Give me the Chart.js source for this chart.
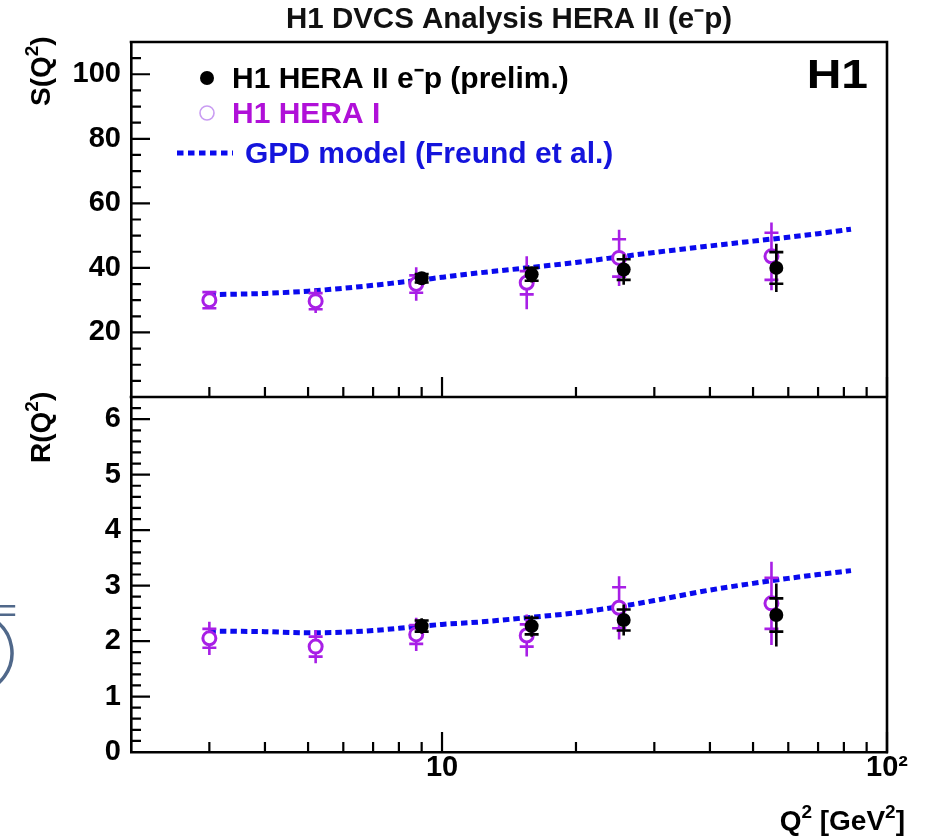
<!DOCTYPE html>
<html>
<head>
<meta charset="utf-8">
<script src="https://cdn.jsdelivr.net/npm/chart.js@4/dist/chart.umd.min.js"></script>
<style>
  html, body { margin: 0; padding: 0; background: #ffffff; }
  #wrap { position: relative; width: 925px; height: 840px; }
</style>
</head>
<body>
<div id="wrap"><canvas id="c" width="925" height="840"></canvas></div>
<script>
const FONT = "'Liberation Sans', Arial, Helvetica, sans-serif";

// Q^2 bin centres (GeV^2)
const q2HeraI  = [3.0, 5.2, 8.75, 15.5, 25.0, 55.0];
const q2HeraII = [9.0, 15.9, 25.6, 56.4];

// S(Q^2): value, statistical and total uncertainty
const sHeraI      = [30.0, 29.7, 35.0, 35.4, 43.1, 43.6];
const sHeraIStat  = [2.5, 2.5, 2.7, 3.6, 5.8, 7.3];
const sHeraITot   = [2.5, 3.7, 5.2, 8.2, 8.7, 10.5];
const sHeraII     = [36.8, 38.0, 39.5, 40.0];
const sHeraIIStat = [1.3, 2.0, 3.2, 4.9];
const sHeraIITot  = [1.8, 2.5, 4.7, 7.5];

// R(Q^2): value, statistical and total uncertainty
const rHeraI      = [2.05, 1.90, 2.12, 2.10, 2.60, 2.68];
const rHeraIStat  = [0.17, 0.18, 0.17, 0.20, 0.37, 0.46];
const rHeraITot   = [0.30, 0.30, 0.30, 0.38, 0.57, 0.75];
const rHeraII     = [2.27, 2.27, 2.38, 2.47];
const rHeraIIStat = [0.10, 0.15, 0.19, 0.30];
const rHeraIITot  = [0.14, 0.19, 0.28, 0.57];

// GPD model (Freund et al.)
const modelQ2 = [3, 4, 5, 6, 7, 8, 9, 10, 12, 15, 20, 25, 30, 40, 50, 60, 70, 83];
const modelS  = [31.7, 32.1, 32.8, 33.7, 34.6, 35.5, 36.3, 37.1, 38.4, 39.8, 41.7, 43.4, 44.8, 46.8, 48.3, 49.5, 50.6, 52.0];
const modelR  = [2.18, 2.17, 2.15, 2.16, 2.19, 2.23, 2.27, 2.30, 2.34, 2.41, 2.51, 2.62, 2.73, 2.92, 3.04, 3.13, 3.20, 3.27];

// axis ticks
const xTicks = [3, 4, 5, 6, 7, 8, 9, 10, 20, 30, 40, 50, 60, 70, 80, 90, 100];
const xTickLabels = { 10: '10', 100: '10\u00B2' };
const sTicks = [0, 5, 10, 15, 20, 25, 30, 35, 40, 45, 50, 55, 60, 65, 70, 75, 80, 85, 90, 95, 100, 105, 110];
const sTickLabels = [20, 40, 60, 80, 100];
const rTicks = [0, 0.2, 0.4, 0.6, 0.8, 1, 1.2, 1.4, 1.6, 1.8, 2, 2.2, 2.4, 2.6, 2.8, 3, 3.2, 3.4, 3.6, 3.8,
                4, 4.2, 4.4, 4.6, 4.8, 5, 5.2, 5.4, 5.6, 5.8, 6, 6.2, 6.4];
const rTickLabels = [0, 1, 2, 3, 4, 5, 6];

const PURPLE = '#a81fe6';
const PURPLE_TEXT = '#b010d8';
const BLUE = '#0a0aee';
const BLACK = '#000000';

const pts = (xs, ys) => xs.map((x, i) => ({ x: x, y: ys[i] }));

function modelSet(label, ys, axis) {
  return {
    type: 'line', label: label, data: pts(modelQ2, ys), yAxisID: axis,
    borderColor: BLUE, borderWidth: 5, borderDash: [6.5, 4], borderCapStyle: 'butt',
    pointRadius: 0, fill: false, cubicInterpolationMode: 'monotone', order: 3
  };
}
function heraISet(ys, stat, tot, axis) {
  return {
    label: 'H1 HERA I', data: pts(q2HeraI, ys), yAxisID: axis,
    pointStyle: 'circle', pointRadius: 6.5, pointBorderWidth: 3,
    pointBorderColor: PURPLE, pointBackgroundColor: '#ffffff',
    borderColor: PURPLE, backgroundColor: '#ffffff',
    errStat: stat, errTot: tot, errColor: PURPLE, order: 2
  };
}
function heraIISet(ys, stat, tot, axis) {
  return {
    label: 'H1 HERA II e\u207Bp (prelim.)', data: pts(q2HeraII, ys), yAxisID: axis,
    pointStyle: 'circle', pointRadius: 7, pointBorderWidth: 0,
    pointBackgroundColor: BLACK, borderColor: BLACK, backgroundColor: BLACK,
    errStat: stat, errTot: tot, errColor: BLACK, order: 1
  };
}

// vertical error bars: full line to the total error, short bars at the statistical error
const errorBars = {
  id: 'errorBars',
  beforeDatasetDraw(chart, args) {
    const ds = chart.data.datasets[args.index];
    if (!ds.errTot) return;
    const xs = chart.scales[args.meta.xAxisID];
    const ys = chart.scales[args.meta.yAxisID];
    const ctx = chart.ctx;
    ctx.save();
    ctx.strokeStyle = ds.errColor;
    ctx.lineWidth = 2.6;
    ds.data.forEach((p, i) => {
      const px = xs.getPixelForValue(p.x);
      const yTop = ys.getPixelForValue(p.y + ds.errTot[i]);
      const yBot = ys.getPixelForValue(p.y - ds.errTot[i]);
      const sTop = ys.getPixelForValue(p.y + ds.errStat[i]);
      const sBot = ys.getPixelForValue(p.y - ds.errStat[i]);
      ctx.beginPath();
      ctx.moveTo(px, yTop); ctx.lineTo(px, yBot);
      ctx.moveTo(px - 7, sTop); ctx.lineTo(px + 7, sTop);
      ctx.moveTo(px - 7, sBot); ctx.lineTo(px + 7, sBot);
      ctx.stroke();
    });
    ctx.restore();
  }
};

// closed frame, panel divider and inward tick marks
const frame = {
  id: 'frame',
  afterDraw(chart) {
    const ctx = chart.ctx;
    const { left, right, top, bottom } = chart.chartArea;
    const xS = chart.scales.x, yS = chart.scales.yS, yR = chart.scales.yR;
    const mid = yS.bottom;
    ctx.save();
    ctx.strokeStyle = BLACK;
    ctx.lineCap = 'square';
    ctx.lineWidth = 2.6;
    ctx.beginPath();
    ctx.moveTo(left, top); ctx.lineTo(right, top); ctx.lineTo(right, bottom);
    ctx.moveTo(left, mid); ctx.lineTo(right, mid);
    ctx.stroke();

    ctx.lineCap = 'butt';
    ctx.lineWidth = 2.2;
    ctx.beginPath();
    yS.ticks.forEach(t => {
      const py = yS.getPixelForValue(t.value);
      const len = t.value % 20 === 0 ? 19 : 10;
      ctx.moveTo(left, py); ctx.lineTo(left + len, py);
    });
    yR.ticks.forEach(t => {
      const py = yR.getPixelForValue(t.value);
      const len = Math.abs(t.value - Math.round(t.value)) < 1e-6 ? 19 : 10;
      ctx.moveTo(left, py); ctx.lineTo(left + len, py);
    });
    xS.ticks.forEach(t => {
      const px = xS.getPixelForValue(t.value);
      const len = (t.value === 10 || t.value === 100) ? 20 : 10;
      ctx.moveTo(px, mid); ctx.lineTo(px, mid - len);
      ctx.moveTo(px, bottom); ctx.lineTo(px, bottom - len);
    });
    ctx.stroke();
    ctx.restore();
  }
};

// text with raised exponents: parts are [text, isSuperscript]
function drawRich(ctx, parts, x, y, size, align) {
  const base = 'bold ' + size + 'px ' + FONT;
  const sup = 'bold ' + Math.round(size * 0.68) + 'px ' + FONT;
  let total = 0;
  parts.forEach(([t, s]) => { ctx.font = s ? sup : base; total += ctx.measureText(t).width; });
  let cx = align === 'right' ? x - total : (align === 'center' ? x - total / 2 : x);
  ctx.textAlign = 'left';
  ctx.textBaseline = 'alphabetic';
  parts.forEach(([t, s]) => {
    ctx.font = s ? sup : base;
    ctx.fillText(t, cx, s ? y - size * 0.42 : y);
    cx += ctx.measureText(t).width;
  });
}

// legend, experiment tag and axis titles
const annotations = {
  id: 'annotations',
  afterDraw(chart) {
    const ctx = chart.ctx;
    const { left, right, top, bottom } = chart.chartArea;
    const yR = chart.scales.yR;
    ctx.save();

    // legend
    ctx.fillStyle = BLACK;
    ctx.beginPath(); ctx.arc(left + 76, top + 36, 7, 0, Math.PI * 2); ctx.fill();
    ctx.font = 'bold 30px ' + FONT;
    ctx.textAlign = 'left'; ctx.textBaseline = 'alphabetic';
    ctx.fillText(chart.data.datasets[2].label, left + 101, top + 46);

    ctx.strokeStyle = '#c99cf2'; ctx.lineWidth = 1.6;
    ctx.beginPath(); ctx.arc(left + 76, top + 71, 7, 0, Math.PI * 2); ctx.stroke();
    ctx.fillStyle = PURPLE_TEXT;
    ctx.fillText(chart.data.datasets[1].label, left + 101, top + 81);

    ctx.strokeStyle = BLUE; ctx.lineWidth = 5; ctx.setLineDash([6.5, 4.5]);
    ctx.beginPath(); ctx.moveTo(left + 46, top + 111); ctx.lineTo(left + 102, top + 111); ctx.stroke();
    ctx.setLineDash([]);
    ctx.fillStyle = '#1414dc';
    ctx.fillText(chart.data.datasets[0].label, left + 114, top + 121);

    // experiment tag
    ctx.fillStyle = BLACK;
    ctx.save();
    ctx.translate(right - 19, top + 46);
    ctx.scale(1.2, 1);
    ctx.font = 'bold 40px ' + FONT;
    ctx.textAlign = 'right';
    ctx.fillText('H1', 0, 0);
    ctx.restore();

    // y titles
    ctx.save();
    ctx.translate(50, top + 64);
    ctx.rotate(-Math.PI / 2);
    drawRich(ctx, [['S(Q', false], ['2', true], [')', false]], 0, 0, 28, 'left');
    ctx.restore();
    ctx.save();
    ctx.translate(50, yR.top + 66);
    ctx.rotate(-Math.PI / 2);
    drawRich(ctx, [['R(Q', false], ['2', true], [')', false]], 0, 0, 28, 'left');
    ctx.restore();

    // x title
    drawRich(ctx, [['Q', false], ['2', true], [' [GeV', false], ['2', true], [']', false]], 905, bottom + 78, 28, 'right');

    // fragments of neighbouring slide content at the left edge
    ctx.fillStyle = '#50688a';
    ctx.strokeStyle = '#50688a';
    ctx.font = 'normal 34px ' + FONT;
    ctx.fillText('=', -3, 622);
    ctx.lineWidth = 3.5;
    ctx.beginPath();
    ctx.arc(-28, 653, 40, -0.95, 0.95);
    ctx.stroke();

    ctx.restore();
  }
};

const tickFont = { family: FONT, size: 29, weight: 'bold' };

new Chart(document.getElementById('c'), {
  type: 'scatter',
  data: {
    datasets: [
      modelSet('GPD model (Freund et al.)', modelS, 'yS'),
      heraISet(sHeraI, sHeraIStat, sHeraITot, 'yS'),
      heraIISet(sHeraII, sHeraIIStat, sHeraIITot, 'yS'),
      modelSet('GPD model (Freund et al.)', modelR, 'yR'),
      heraISet(rHeraI, rHeraIStat, rHeraITot, 'yR'),
      heraIISet(rHeraII, rHeraIIStat, rHeraIITot, 'yR')
    ]
  },
  options: {
    responsive: false,
    animation: false,
    events: [],
    layout: { padding: { left: 0, right: 38, top: 0, bottom: 0 } },
    plugins: {
      legend: { display: false },
      tooltip: { enabled: false },
      title: {
        display: true, fullSize: false,
        text: 'H1 DVCS Analysis HERA II (e\u207Bp)',
        color: '#111111',
        font: { family: FONT, size: 29.5, weight: 'bold' },
        padding: { top: 2, bottom: 4.6 }
      }
    },
    scales: {
      x: {
        type: 'logarithmic', position: 'bottom', min: 2, max: 100,
        afterBuildTicks: s => { s.ticks = xTicks.map(v => ({ value: v })); },
        afterFit: s => { s.height = 88; },
        grid: { display: false, drawTicks: false, tickLength: 0 },
        border: { display: true, color: BLACK, width: 2.6 },
        ticks: {
          autoSkip: false, maxRotation: 0, minRotation: 0, padding: -1,
          color: BLACK, font: tickFont,
          callback: v => xTickLabels[v] || ''
        }
      },
      yR: {
        type: 'linear', position: 'left', stack: 'panels', stackWeight: 1, weight: 0,
        min: 0, max: 6.4,
        afterBuildTicks: s => { s.ticks = rTicks.map(v => ({ value: v })); },
        afterFit: s => { s.width = 131; },
        grid: { display: false, drawTicks: false, tickLength: 0 },
        border: { display: true, color: BLACK, width: 2.6 },
        ticks: {
          autoSkip: false, padding: 10, color: BLACK, font: tickFont,
          callback: v => rTickLabels.some(l => Math.abs(l - v) < 1e-6) ? String(Math.round(v)) : ''
        }
      },
      yS: {
        type: 'linear', position: 'left', stack: 'panels', stackWeight: 1, weight: 1,
        min: 0, max: 110,
        afterBuildTicks: s => { s.ticks = sTicks.map(v => ({ value: v })); },
        afterFit: s => { s.width = 131; },
        grid: { display: false, drawTicks: false, tickLength: 0 },
        border: { display: true, color: BLACK, width: 2.6 },
        ticks: {
          autoSkip: false, padding: 10, color: BLACK, font: tickFont,
          callback: v => sTickLabels.includes(v) ? String(v) : ''
        }
      }
    }
  },
  plugins: [errorBars, frame, annotations]
});
</script>
</body>
</html>
